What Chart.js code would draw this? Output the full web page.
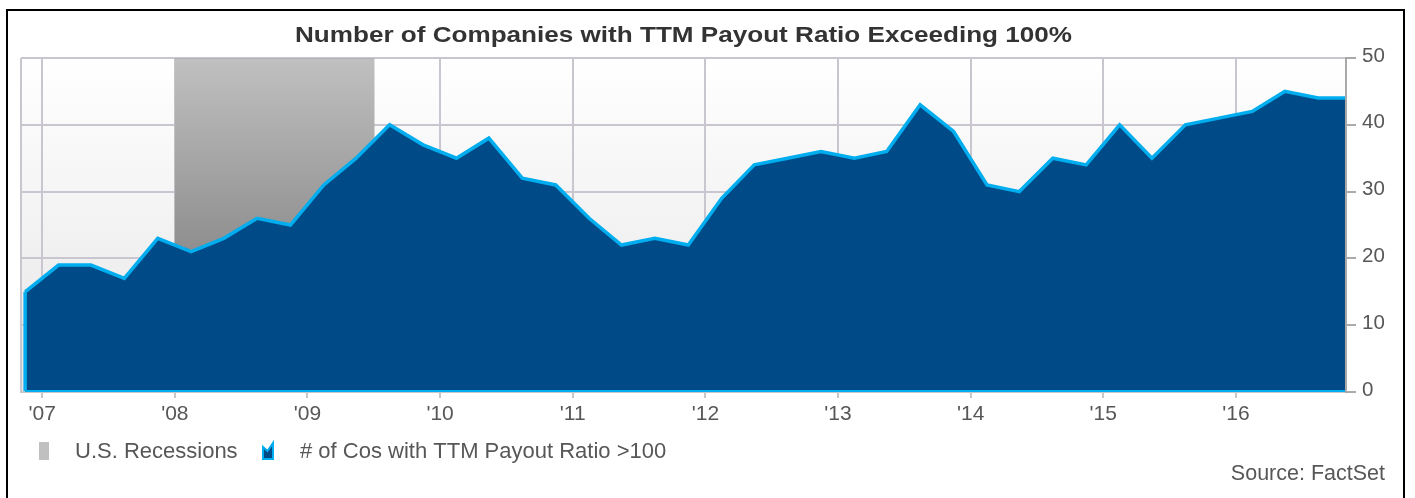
<!DOCTYPE html>
<html>
<head>
<meta charset="utf-8">
<script src="https://cdn.jsdelivr.net/npm/chart.js@4.4.1/dist/chart.umd.min.js"></script>
<style>
  html, body { margin: 0; padding: 0; background: #fff; }
  #wrap { width: 1415px; height: 498px; }
</style>
</head>
<body>
<div id="wrap"><canvas id="payoutChart" width="1415" height="498"></canvas></div>
<script>
// quarterly observations
const quarterDates = [
    '2006-11-15',
    '2007-02-15', '2007-05-15', '2007-08-15', '2007-11-15',
    '2008-02-15', '2008-05-15', '2008-08-15', '2008-11-15',
    '2009-02-15', '2009-05-15', '2009-08-15', '2009-11-15',
    '2010-02-15', '2010-05-15', '2010-08-15', '2010-11-15',
    '2011-02-15', '2011-05-15', '2011-08-15', '2011-11-15',
    '2012-02-15', '2012-05-15', '2012-08-15', '2012-11-15',
    '2013-02-15', '2013-05-15', '2013-08-15', '2013-11-15',
    '2014-02-15', '2014-05-15', '2014-08-15', '2014-11-15',
    '2015-02-15', '2015-05-15', '2015-08-15', '2015-11-15',
    '2016-02-15', '2016-05-15', '2016-08-15', '2016-10-28'
];
const companyCounts = [
    15,
    19, 19, 17, 23,
    21, 23, 26, 25,
    31, 35, 40, 37,
    35, 38, 32, 31,
    26, 22, 23, 22,
    29, 34, 35, 36,
    35, 36, 43, 39,
    31, 30, 35, 34,
    40, 35, 40, 41,
    42, 45, 44, 44
];

// recession band (Dec 2007 - Jun 2009)
const recessionDates = ['2007-12-31', '2009-07-05'];
const recessionLevel = [50, 50];

const yearTicks = [2007, 2008, 2009, 2010, 2011, 2012, 2013, 2014, 2015, 2016];
const yearLabels = ["'07", "'08", "'09", "'10", "'11", "'12", "'13", "'14", "'15", "'16"];

const seriesLabels = ['U.S. Recessions', '# of Cos with TTM Payout Ratio >100'];
const chartTitle = 'Number of Companies with TTM Payout Ratio Exceeding 100%';
const sourceNote = 'Source: FactSet';

const FONT = '"Liberation Sans", Arial, sans-serif';
const NAVY = '#004a87';
const CYAN = '#00adee';
const GRID = '#cac6d0';
const TEXT = '#575757';
const TITLE_WIDTH = 777;

// date string -> decimal year for the linear x axis
function toYear(s) {
    const [y, m, d] = s.split('-').map(Number);
    const start = Date.UTC(y, 0, 1);
    const end = Date.UTC(y + 1, 0, 1);
    return y + (Date.UTC(y, m - 1, d) - start) / (end - start);
}

const framePlugin = {
    id: 'frame',
    beforeDraw(chart) {
        const { ctx, chartArea: a } = chart;
        ctx.save();
        ctx.fillStyle = '#fff';
        ctx.fillRect(0, 0, chart.width, chart.height);
        const g = ctx.createLinearGradient(0, a.top, 0, a.bottom);
        g.addColorStop(0, '#ffffff');
        g.addColorStop(1, '#e6e6e6');
        ctx.fillStyle = g;
        ctx.fillRect(a.left, a.top, a.right - a.left, a.bottom - a.top);
        ctx.strokeStyle = GRID;
        ctx.lineWidth = 2;
        ctx.beginPath();
        ctx.moveTo(a.left, a.top);
        ctx.lineTo(a.left, a.bottom);
        ctx.stroke();
        ctx.restore();
    },
    afterDatasetsDraw(chart) {
        // close the area outline on the left and along the base
        const { ctx, chartArea: a, scales: { y } } = chart;
        const pts = chart.getDatasetMeta(1).data;
        const first = pts[0];
        const last = pts[pts.length - 1];
        const base = y.getPixelForValue(0);
        ctx.save();
        ctx.strokeStyle = CYAN;
        ctx.lineWidth = 3.5;
        ctx.beginPath();
        ctx.moveTo(first.x, first.y);
        ctx.lineTo(first.x, base - 1);
        ctx.stroke();
        ctx.lineWidth = 2;
        ctx.beginPath();
        ctx.moveTo(first.x, base - 1);
        ctx.lineTo(last.x, base - 1);
        ctx.stroke();
        // right axis line sits over the fill
        ctx.strokeStyle = '#a9a9a9';
        ctx.beginPath();
        ctx.moveTo(a.right, a.top);
        ctx.lineTo(a.right, a.bottom);
        ctx.stroke();
        ctx.restore();
    },
    afterDraw(chart) {
        const { ctx, chartArea: a } = chart;
        ctx.save();

        // title, stretched to the reference width
        ctx.font = 'bold 21.5px ' + FONT;
        ctx.fillStyle = '#333333';
        ctx.textAlign = 'center';
        ctx.textBaseline = 'alphabetic';
        const w = ctx.measureText(chartTitle).width;
        ctx.save();
        ctx.translate((a.left + a.right) / 2, 41.5);
        ctx.scale(TITLE_WIDTH / w, 1);
        ctx.fillText(chartTitle, 0, 0);
        ctx.restore();

        // legend
        ctx.font = '22px ' + FONT;
        ctx.textAlign = 'left';
        ctx.fillStyle = '#c0c0c0';
        ctx.fillRect(39, 442, 10, 18);
        ctx.fillStyle = TEXT;
        ctx.fillText(chart.data.datasets[0].label, 75, 458);

        ctx.beginPath();
        ctx.moveTo(263, 459);
        ctx.lineTo(263, 447);
        ctx.lineTo(267.5, 451);
        ctx.lineTo(273, 443);
        ctx.lineTo(273, 459);
        ctx.closePath();
        ctx.fillStyle = NAVY;
        ctx.fill();
        ctx.strokeStyle = CYAN;
        ctx.lineWidth = 2;
        ctx.stroke();
        ctx.fillStyle = TEXT;
        ctx.fillText(chart.data.datasets[1].label, 300, 458);

        // source note
        ctx.font = '21.5px ' + FONT;
        ctx.textAlign = 'right';
        ctx.fillText(sourceNote, 1385, 480);

        // outer frame, open at the bottom
        ctx.strokeStyle = '#000';
        ctx.lineWidth = 2;
        ctx.beginPath();
        ctx.moveTo(7, chart.height);
        ctx.lineTo(7, 10);
        ctx.lineTo(1404, 10);
        ctx.lineTo(1404, chart.height);
        ctx.stroke();
        ctx.restore();
    }
};

const ctx = document.getElementById('payoutChart').getContext('2d');
Chart.defaults.font.family = FONT;

new Chart(ctx, {
    type: 'line',
    data: {
        datasets: [{
            label: seriesLabels[0],
            data: recessionDates.map((d, i) => ({ x: toYear(d), y: recessionLevel[i] })),
            order: 2,
            fill: 'origin',
            borderColor: '#b4b4b4',
            borderWidth: 2,
            pointRadius: 0,
            backgroundColor: function(context) {
                const area = context.chart.chartArea;
                if (!area) return '#a0a0a0';
                const g = context.chart.ctx.createLinearGradient(0, area.top, 0, area.bottom);
                g.addColorStop(0, '#c0c0c0');
                g.addColorStop(1, '#6a6a6a');
                return g;
            }
        }, {
            label: seriesLabels[1],
            data: quarterDates.map((d, i) => ({ x: toYear(d), y: companyCounts[i] })),
            order: 1,
            fill: 'origin',
            borderColor: CYAN,
            borderWidth: 3.5,
            backgroundColor: NAVY,
            pointRadius: 0,
            tension: 0
        }]
    },
    options: {
        responsive: false,
        animation: false,
        devicePixelRatio: 1,
        layout: { padding: { left: 21, right: 9, top: 58, bottom: 66 } },
        plugins: {
            legend: { display: false },
            title: { display: false },
            tooltip: { enabled: false }
        },
        scales: {
            x: {
                type: 'linear',
                min: 2006.84,
                max: 2016.83,
                afterBuildTicks: scale => {
                    scale.ticks = yearTicks.map(v => ({ value: v }));
                },
                afterFit: scale => { scale.height = 40; },
                ticks: {
                    autoSkip: false,
                    maxRotation: 0,
                    padding: 4,
                    color: TEXT,
                    font: { size: 21 },
                    callback: (value, index) => yearLabels[index]
                },
                grid: { color: GRID, lineWidth: 2, tickLength: 6, tickColor: '#c8c8c8' },
                border: { color: '#c8c8c8', width: 2 }
            },
            y: {
                position: 'right',
                min: 0,
                max: 50,
                afterFit: scale => { scale.width = 60; },
                ticks: {
                    stepSize: 10,
                    padding: 6,
                    labelOffset: -2,
                    color: TEXT,
                    font: { size: 20.5 }
                },
                grid: { color: GRID, lineWidth: 2, tickLength: 10, tickColor: '#aaaaaa' },
                border: { color: '#a9a9a9', width: 2 }
            }
        }
    },
    plugins: [framePlugin]
});
</script>
</body>
</html>
